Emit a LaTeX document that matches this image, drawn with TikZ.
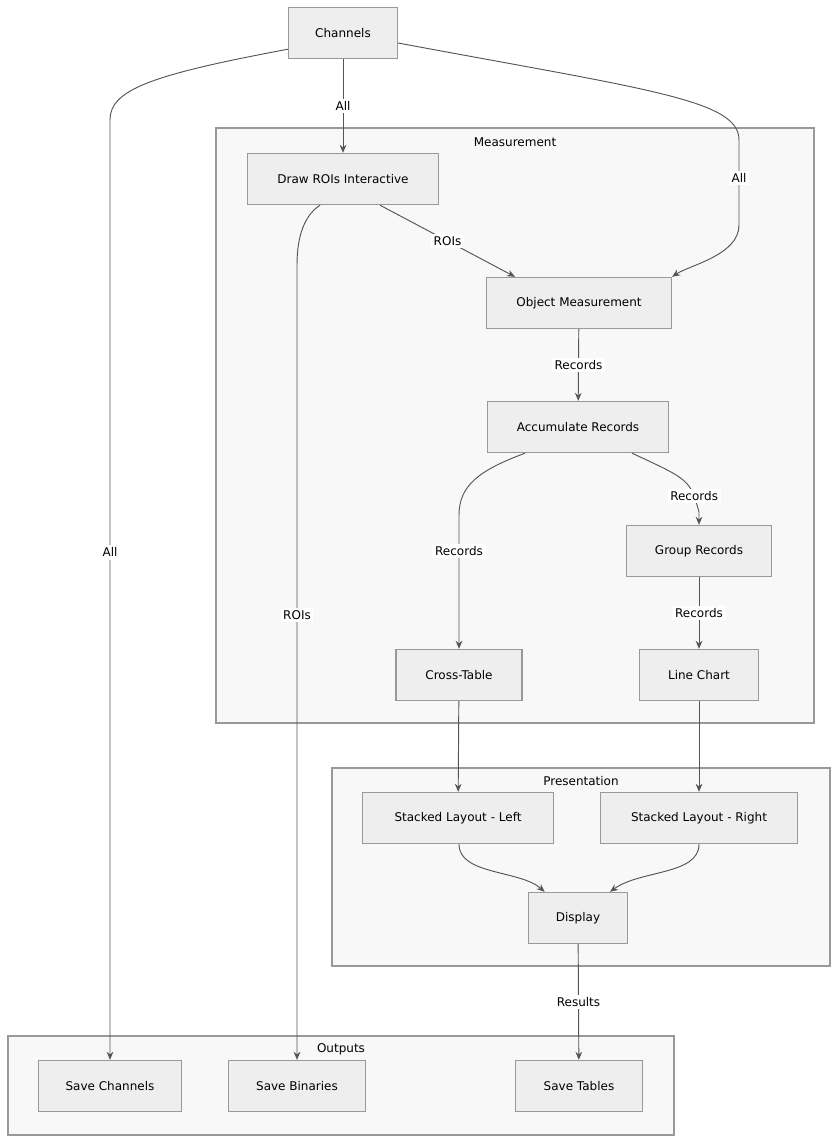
\documentclass[tikz,border=0pt]{standalone}
\usepackage{fontspec}
\setmainfont{DejaVu Sans}
\usetikzlibrary{arrows.meta,positioning}
\definecolor{boxfill}{HTML}{EEEEEE}
\definecolor{boxline}{HTML}{999999}
\definecolor{clusterfill}{HTML}{F8F8F8}
\definecolor{edgecol}{HTML}{555555}
\tikzset{
  >=Stealth,
  every node/.append style={font=\fontsize{9}{11}\selectfont},
}
\begin{document}
\begin{tikzpicture}[x=0.75pt,y=-0.75pt,
  stage/.style={rectangle, draw=boxline, fill=boxfill, line width=0.8pt,
               minimum height=38.5pt, inner sep=2pt},
  cluster/.style={draw=boxline, fill=clusterfill, line width=0.8pt},
  arrow/.style={-{Stealth[length=6pt,width=5pt]}, draw=edgecol, line width=0.7pt},
  lbl/.style={fill=white, inner sep=2pt}
]
\useasboundingbox (0,0) rectangle (836,1141);

% Clusters
\draw[cluster] (216,128) rectangle (814,723);
\node at (515,142) {Measurement};
\draw[cluster] (332,768) rectangle (830,966);
\node at (581,781) {Presentation};
\draw[cluster] (8,1036) rectangle (674,1135);
\node at (341,1049) {Outputs};

% Stages
\node[stage, minimum width=81.75pt] (channels) at (343,33) {Channels};
\node[stage, minimum width=143.25pt] (drawrois) at (343,179) {Draw ROIs Interactive};
\node[stage, minimum width=138.75pt] (objmeas) at (579,303) {Object Measurement};
\node[stage, minimum width=135.75pt] (accum) at (578,427) {Accumulate Records};
\node[stage, minimum width=108.75pt] (group) at (699,551) {Group Records};
\node[stage, minimum width=94.5pt] (crosstab) at (459,675) {Cross-Table};
\node[stage, minimum width=89.25pt] (linechart) at (699,675) {Line Chart};
\node[stage, minimum width=143.25pt] (stackleft) at (458,818) {Stacked Layout - Left};
\node[stage, minimum width=147.75pt] (stackright) at (699,818) {Stacked Layout - Right};
\node[stage, minimum width=74.25pt] (display) at (578,918) {Display};
\node[stage, minimum width=107.25pt] (savech) at (110,1086) {Save Channels};
\node[stage, minimum width=102.75pt] (savebin) at (297,1086) {Save Binaries};
\node[stage, minimum width=95.25pt] (savetab) at (579,1086) {Save Tables};

% Connectors
\draw[arrow] (channels.south west) ++(0,-10) .. controls (150,75) and (110,90) .. (110,120) -- (savech.north)
  node[lbl, pos=0.46] {All};
\draw[arrow] (channels) -- node[lbl] {All} (drawrois);
\draw[arrow] (channels.east) ++(0,10) .. controls (650,90) and (739,100) .. (739,140) -- (739,225)
  node[lbl, pos=0.45] {All} .. controls (739,255) and (690,265) .. (objmeas.north east);
\draw[arrow] (drawrois.south) ++(37,0) -- node[lbl] {ROIs} ([xshift=-48pt]objmeas.north);
\draw[arrow] (drawrois.south) ++(-23,0) .. controls (305,215) and (297,235) .. (297,265) -- (savebin.north)
  node[lbl, pos=0.44] {ROIs};
\draw[arrow] (objmeas) -- node[lbl] {Records} (accum);
\draw[arrow] (accum.south) ++(-53,0) .. controls (480,470) and (459,485) .. (459,515) -- (crosstab.north)
  node[lbl, pos=0.27] {Records};
\draw[arrow] (accum.south) ++(54,0) .. controls (690,480) .. (699,512)
  node[lbl, pos=0.8] {Records} -- (group.north);
\draw[arrow] (group) -- node[lbl] {Records} (linechart);
\draw[arrow] (crosstab) -- (stackleft);
\draw[arrow] (linechart) -- (stackright);
\draw[arrow] (stackleft.south) ++(1,0) .. controls (459,875) and (520,870) .. ([xshift=-25pt]display.north);
\draw[arrow] (stackright.south) .. controls (699,875) and (640,870) .. ([xshift=24pt]display.north);
\draw[arrow] (display) -- node[lbl] {Results} (savetab);
\end{tikzpicture}
\end{document}
